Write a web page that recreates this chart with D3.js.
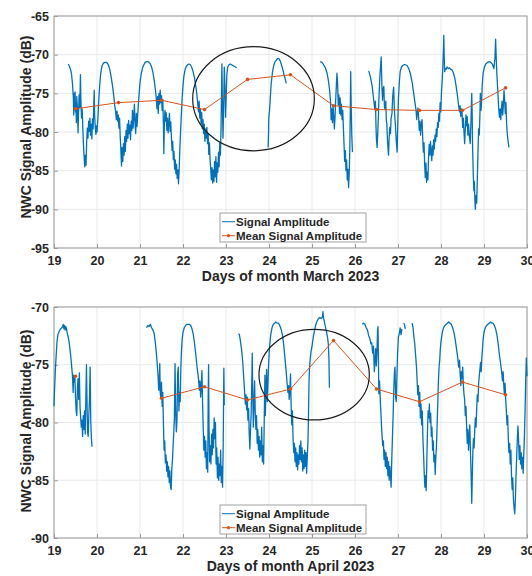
<!DOCTYPE html>
<html>
<head>
<meta charset="utf-8">
<script src="https://cdn.jsdelivr.net/npm/d3@7"></script>
<style>
  body { margin: 0; background: #fff; }
  svg text { font-family: "Liberation Sans", Arial, sans-serif; font-weight: bold; fill: #262626; }
</style>
</head>
<body>
<div id="vis"></div>
<script>
// ---- data ----
var xTicks = [19, 20, 21, 22, 23, 24, 25, 26, 27, 28, 29, 30];
var marchYTicks = [-95, -90, -85, -80, -75, -70, -65];
var aprilYTicks = [-90, -85, -80, -75, -70];

var meanDays = [19.5, 20.5, 21.5, 22.5, 23.5, 24.5, 25.5, 26.5, 27.5, 28.5, 29.5];
var marchMean = [-77.0, -76.2, -75.9, -77.1, -73.2, -72.6, -76.6, -77.1, -77.2, -77.2, -74.3];
var aprilMean = [-76.0, null, -77.9, -76.9, -78.05, -77.1, -72.9, -77.1, -78.2, -76.5, -77.6];

var legendNames = ["Signal Amplitude", "Mean Signal Amplitude"];
var xLabels = ["Days of month March 2023", "Days of month April 2023"];
var yLabel = "NWC Signal Amplitude (dB)";

// circled regions [centre day, centre dB, half width in days, half height in dB]
var marchCircle = [23.64, -75.7, 1.415, 6.73];
var aprilCircle = [25.05, -75.86, 1.283, 3.92];

// signal amplitude, one array per continuous piece of recording: [day, dB]
var marchSignal = [
  [[19.33,-71.2],[19.36,-71.5],[19.39,-72.0],[19.41,-72.6],[19.43,-73.8],[19.45,-75.6],[19.46,-77.8],[19.47,-75.0],[19.48,-76.9],[19.49,-74.8],[19.50,-77.4],[19.51,-76.2],[19.52,-78.8],[19.53,-75.4],[19.545,-77.0],[19.56,-80.1],[19.57,-77.6],[19.585,-75.2],[19.60,-76.8],[19.615,-72.6],[19.625,-75.8],[19.64,-78.2],[19.655,-77.0],[19.67,-79.4],[19.685,-81.6],[19.70,-83.2],[19.715,-84.5],[19.73,-83.0],[19.745,-84.3],[19.76,-81.2],[19.775,-79.5],[19.79,-80.8],[19.805,-78.6],[19.82,-79.9],[19.835,-78.2],[19.85,-80.4],[19.865,-79.0],[19.88,-80.9],[19.895,-78.3],[19.91,-79.6],[19.925,-76.5],[19.935,-74.6],[19.945,-77.8],[19.96,-79.4],[19.975,-80.3],[19.99,-79.2],[20.00,-80.0],[20.02,-78.3],[20.04,-76.0],[20.06,-74.2],[20.08,-72.8],[20.10,-71.9],[20.12,-71.4],[20.15,-71.1],[20.18,-71.0],[20.21,-71.0],[20.24,-71.1],[20.27,-71.4],[20.30,-72.0],[20.33,-72.9],[20.36,-74.0],[20.39,-75.3],[20.41,-76.5],[20.43,-77.2],[20.45,-78.4],[20.465,-77.3],[20.48,-78.6],[20.495,-77.8],[20.51,-79.5],[20.525,-78.2],[20.54,-80.6],[20.555,-82.4],[20.57,-84.4],[20.585,-82.0],[20.60,-83.8],[20.615,-81.5],[20.63,-83.0],[20.645,-80.6],[20.66,-82.5],[20.675,-79.8],[20.69,-81.2],[20.705,-79.0],[20.72,-80.8],[20.735,-78.5],[20.75,-80.2],[20.765,-79.1],[20.78,-81.0],[20.795,-78.6],[20.81,-79.8],[20.825,-77.2],[20.84,-79.5],[20.855,-78.0],[20.87,-76.4],[20.885,-79.0],[20.90,-80.2],[20.915,-77.6],[20.93,-79.3],[20.945,-78.0],[20.96,-76.5],[20.98,-75.0],[21.00,-73.6],[21.03,-72.4],[21.06,-71.7],[21.09,-71.3],[21.12,-71.0],[21.15,-70.9],[21.18,-70.9],[21.21,-71.0],[21.24,-71.2],[21.27,-71.6],[21.30,-72.3],[21.33,-73.3],[21.36,-74.6],[21.38,-75.8],[21.395,-77.0],[21.41,-75.4],[21.425,-77.6],[21.44,-75.0],[21.455,-76.4],[21.47,-74.6],[21.485,-76.2],[21.50,-75.3],[21.515,-77.2],[21.53,-75.8],[21.545,-79.0],[21.555,-82.8],[21.565,-79.4],[21.58,-77.2],[21.595,-78.6],[21.61,-77.5],[21.625,-79.8],[21.64,-78.2],[21.655,-80.1],[21.67,-78.8],[21.685,-77.6],[21.70,-79.9],[21.715,-78.7],[21.73,-80.6],[21.745,-82.4],[21.76,-81.2],[21.775,-83.6],[21.79,-82.5],[21.805,-84.8],[21.82,-83.6],[21.835,-85.4],[21.85,-84.2],[21.865,-86.0],[21.88,-84.9],[21.895,-86.7],[21.91,-85.0],[21.92,-83.3],[21.935,-81.0],[21.95,-79.2],[21.965,-77.4],[21.98,-75.6],[22.00,-74.0],[22.02,-72.8],[22.05,-71.9],[22.08,-71.5],[22.11,-71.3],[22.14,-71.2],[22.17,-71.3],[22.20,-71.6],[22.23,-72.1],[22.26,-72.8],[22.29,-73.8],[22.32,-75.0],[22.34,-76.2],[22.36,-77.4],[22.375,-76.0],[22.39,-78.2],[22.405,-77.0],[22.42,-78.9],[22.435,-77.5],[22.45,-79.6],[22.465,-78.4],[22.48,-80.2],[22.495,-79.0],[22.51,-81.2],[22.525,-79.6],[22.54,-80.8],[22.555,-79.4],[22.57,-81.5],[22.585,-80.2],[22.60,-82.9],[22.615,-81.4],[22.63,-83.6],[22.645,-84.8],[22.66,-86.2],[22.675,-84.6],[22.69,-86.6],[22.705,-84.9],[22.72,-86.4],[22.735,-83.8],[22.75,-85.8],[22.765,-83.2],[22.78,-86.5],[22.795,-84.0],[22.81,-85.2],[22.825,-82.6],[22.84,-84.5],[22.855,-81.4],[22.87,-83.0],[22.885,-79.5],[22.895,-75.0],[22.905,-71.2],[22.915,-75.6],[22.93,-80.8],[22.945,-77.0],[22.96,-71.6],[22.975,-74.0],[22.99,-78.1],[23.005,-75.3],[23.02,-72.6],[23.04,-71.6],[23.07,-71.3],[23.10,-71.2],[23.13,-71.3],[23.16,-71.4],[23.19,-71.5],[23.22,-71.6],[23.25,-71.7]],
  [[23.98,-82.0],[23.99,-79.8],[23.995,-78.2],[24.01,-77.4],[24.03,-75.6],[24.05,-73.8],[24.08,-72.3],[24.11,-71.4],[24.14,-70.9],[24.17,-70.7],[24.20,-70.5],[24.23,-70.5],[24.26,-70.8],[24.29,-71.3],[24.32,-71.9],[24.35,-72.6],[24.38,-73.2],[24.40,-73.7]],
  [[25.19,-70.9],[25.23,-71.0],[25.27,-71.3],[25.31,-71.7],[25.35,-72.4],[25.38,-73.3],[25.41,-74.6],[25.43,-76.0],[25.445,-78.4],[25.46,-77.0],[25.475,-78.8],[25.49,-76.6],[25.505,-77.9],[25.52,-79.6],[25.535,-78.2],[25.55,-76.0],[25.565,-74.2],[25.58,-72.4],[25.595,-73.6],[25.61,-76.5],[25.625,-75.2],[25.64,-77.6],[25.655,-75.6],[25.67,-77.8],[25.685,-76.4],[25.70,-78.4],[25.715,-77.2],[25.73,-79.5],[25.745,-81.6],[25.76,-83.8],[25.775,-82.4],[25.79,-85.0],[25.805,-83.6],[25.82,-86.2],[25.835,-84.8],[25.85,-87.2],[25.865,-85.4],[25.88,-82.0],[25.89,-77.5],[25.90,-72.2],[25.91,-76.0],[25.925,-80.4],[25.94,-82.6]],
  [[26.32,-72.1],[26.36,-72.9],[26.40,-74.1],[26.43,-75.6],[26.46,-77.1],[26.475,-76.0],[26.49,-79.6],[26.50,-81.1],[26.515,-82.0],[26.53,-80.0],[26.545,-77.8],[26.56,-75.2],[26.58,-72.6],[26.61,-70.3],[26.625,-74.0],[26.64,-75.9],[26.655,-74.4],[26.67,-74.1],[26.685,-76.8],[26.70,-77.1],[26.715,-76.0],[26.73,-78.6],[26.74,-78.9],[26.755,-81.0],[26.77,-82.4],[26.78,-83.0],[26.795,-80.6],[26.81,-79.4],[26.825,-80.2],[26.84,-78.2],[26.86,-77.6],[26.875,-75.6],[26.89,-74.6],[26.90,-74.2],[26.915,-77.0],[26.93,-78.4],[26.94,-79.1],[26.96,-81.2],[26.98,-82.6],[26.995,-79.0],[27.01,-75.8],[27.03,-73.6],[27.05,-72.2],[27.08,-71.6],[27.11,-71.4],[27.14,-71.3],[27.17,-71.3],[27.21,-71.4],[27.25,-71.8],[27.29,-72.5],[27.33,-73.6],[27.36,-74.8],[27.39,-76.0],[27.42,-77.2],[27.435,-78.4],[27.45,-77.4],[27.465,-76.9],[27.48,-78.2],[27.495,-79.8],[27.51,-78.6],[27.525,-80.4],[27.54,-79.0],[27.56,-78.4],[27.575,-80.8],[27.59,-82.6],[27.605,-81.4],[27.62,-84.2],[27.635,-85.9],[27.65,-84.0],[27.665,-86.5],[27.68,-85.2],[27.695,-86.2],[27.71,-83.4],[27.725,-81.6],[27.74,-83.0],[27.755,-81.2],[27.77,-82.6],[27.785,-83.7],[27.80,-81.8],[27.815,-83.0],[27.83,-81.0],[27.845,-82.2],[27.86,-80.4],[27.875,-81.2],[27.89,-79.6],[27.905,-80.6],[27.92,-78.8],[27.935,-79.4],[27.95,-77.6],[27.965,-78.6],[27.98,-76.2],[27.995,-77.4],[28.01,-75.0],[28.025,-73.6],[28.04,-72.0],[28.055,-69.6],[28.065,-67.5],[28.075,-70.4],[28.085,-72.2],[28.10,-71.8],[28.12,-71.9],[28.14,-71.6],[28.17,-71.8],[28.20,-71.7],[28.23,-71.9],[28.26,-72.0],[28.29,-72.4],[28.32,-73.0],[28.35,-74.0],[28.38,-75.2],[28.41,-76.6],[28.43,-77.4],[28.445,-76.6],[28.46,-78.0],[28.475,-77.0],[28.49,-77.6],[28.505,-79.4],[28.52,-78.2],[28.535,-80.0],[28.55,-81.5],[28.565,-79.6],[28.58,-77.8],[28.595,-79.2],[28.61,-78.0],[28.625,-80.4],[28.64,-79.0],[28.66,-80.6],[28.68,-81.5],[28.70,-78.0],[28.715,-75.0],[28.725,-77.6],[28.735,-82.0],[28.75,-85.4],[28.765,-87.6],[28.775,-86.4],[28.79,-89.0],[28.80,-90.0],[28.815,-88.2],[28.83,-89.2],[28.845,-86.0],[28.86,-82.6],[28.875,-79.6],[28.89,-80.4],[28.905,-77.8],[28.915,-75.0],[28.93,-77.2],[28.945,-76.0],[28.96,-73.8],[28.98,-72.4],[29.01,-71.6],[29.04,-71.2],[29.08,-71.0],[29.12,-70.9],[29.16,-71.0],[29.20,-71.3],[29.23,-71.8],[29.255,-70.4],[29.27,-68.0],[29.285,-70.6],[29.30,-72.6],[29.32,-74.6],[29.34,-76.8],[29.36,-78.1],[29.375,-77.0],[29.39,-78.4],[29.405,-77.2],[29.42,-76.0],[29.435,-77.8],[29.45,-76.6],[29.465,-74.6],[29.48,-75.8],[29.495,-77.6],[29.51,-76.2],[29.525,-78.8],[29.54,-80.2],[29.56,-81.2],[29.58,-82.0]]
];

var aprilSignal = [
  [[19.00,-78.6],[19.01,-77.4],[19.03,-75.6],[19.05,-74.2],[19.07,-73.0],[19.09,-72.4],[19.12,-72.1],[19.15,-71.9],[19.18,-71.8],[19.20,-71.7],[19.215,-71.5],[19.23,-71.9],[19.245,-71.6],[19.26,-72.0],[19.275,-71.7],[19.29,-71.9],[19.31,-72.3],[19.33,-72.6],[19.35,-73.0],[19.37,-73.6],[19.39,-74.3],[19.41,-75.1],[19.43,-76.0],[19.445,-77.4],[19.455,-75.9],[19.47,-76.5],[19.485,-76.0],[19.50,-77.8],[19.515,-79.0],[19.53,-79.4],[19.545,-77.0],[19.56,-76.2],[19.575,-78.0],[19.59,-75.7],[19.605,-78.6],[19.62,-79.6],[19.635,-80.4],[19.65,-79.8],[19.665,-81.2],[19.68,-79.4],[19.695,-80.6],[19.71,-79.0],[19.725,-81.0],[19.74,-78.2],[19.755,-75.0],[19.765,-77.6],[19.78,-80.8],[19.795,-81.2],[19.81,-79.4],[19.825,-78.0],[19.84,-75.2],[19.855,-79.8],[19.87,-81.4],[19.885,-82.1]],
  [[21.15,-71.8],[21.18,-71.6],[21.21,-71.7],[21.24,-71.5],[21.27,-71.8],[21.30,-72.0],[21.33,-72.3],[21.36,-73.2],[21.38,-74.0],[21.40,-74.9],[21.42,-76.0],[21.435,-77.2],[21.45,-76.2],[21.46,-74.9],[21.47,-77.4],[21.485,-77.9],[21.50,-76.5],[21.515,-78.6],[21.53,-77.4],[21.545,-80.1],[21.56,-82.4],[21.575,-81.6],[21.59,-83.5],[21.605,-82.8],[21.62,-84.2],[21.635,-83.4],[21.65,-84.7],[21.665,-83.8],[21.68,-85.2],[21.695,-84.2],[21.71,-85.6],[21.725,-85.8],[21.74,-84.0],[21.755,-83.2],[21.77,-82.0],[21.785,-80.9],[21.80,-79.6],[21.815,-74.9],[21.83,-79.2],[21.845,-80.8],[21.86,-79.8],[21.875,-75.8],[21.89,-75.2],[21.905,-79.0],[21.92,-77.4],[21.935,-78.2],[21.95,-75.2],[21.965,-73.8],[21.98,-72.8],[22.00,-72.2],[22.03,-71.8],[22.06,-71.6],[22.09,-71.5],[22.12,-71.5],[22.15,-71.5],[22.18,-71.6],[22.21,-71.9],[22.24,-72.4],[22.27,-73.2],[22.30,-74.2],[22.33,-75.3],[22.36,-76.2],[22.38,-77.2],[22.395,-76.4],[22.41,-77.8],[22.425,-77.0],[22.44,-75.5],[22.455,-78.2],[22.47,-80.4],[22.485,-82.4],[22.50,-81.2],[22.515,-83.0],[22.53,-81.6],[22.545,-84.0],[22.56,-82.6],[22.575,-84.3],[22.585,-78.0],[22.595,-75.0],[22.605,-80.4],[22.62,-83.4],[22.635,-82.0],[22.65,-83.6],[22.665,-81.0],[22.68,-82.8],[22.695,-80.6],[22.71,-82.2],[22.725,-79.6],[22.74,-81.4],[22.755,-80.0],[22.77,-83.6],[22.785,-82.2],[22.80,-84.8],[22.815,-83.0],[22.83,-85.0],[22.845,-83.6],[22.86,-84.6],[22.875,-82.4],[22.89,-85.2],[22.905,-83.8],[22.92,-85.6],[22.935,-82.0],[22.95,-75.3],[22.96,-78.5]],
  [[23.29,-72.3],[23.31,-72.4],[23.33,-72.8],[23.36,-73.6],[23.39,-74.8],[23.41,-76.0],[23.43,-77.2],[23.45,-78.4],[23.465,-77.6],[23.48,-78.9],[23.495,-77.8],[23.51,-79.8],[23.525,-78.8],[23.54,-81.0],[23.555,-82.3],[23.57,-80.6],[23.585,-79.2],[23.60,-76.4],[23.61,-74.0],[23.62,-76.8],[23.635,-80.4],[23.65,-78.6],[23.665,-76.4],[23.68,-79.2],[23.695,-80.6],[23.71,-79.4],[23.725,-81.8],[23.74,-80.6],[23.755,-82.4],[23.77,-81.2],[23.785,-83.0],[23.80,-81.6],[23.815,-82.8],[23.83,-80.4],[23.845,-83.4],[23.86,-82.0],[23.875,-83.6],[23.89,-79.6],[23.905,-75.9],[23.915,-79.4],[23.93,-77.2],[23.945,-75.4],[23.96,-78.2],[23.975,-76.8],[23.99,-75.0],[24.01,-73.6],[24.04,-72.4],[24.07,-71.8],[24.10,-71.5],[24.13,-71.4],[24.16,-71.3],[24.19,-71.4],[24.22,-71.4],[24.25,-71.6],[24.28,-71.9],[24.31,-72.4],[24.34,-73.2],[24.37,-74.4],[24.40,-75.6],[24.42,-76.6],[24.44,-77.4],[24.455,-76.8],[24.47,-78.0],[24.485,-77.2],[24.50,-75.8],[24.515,-78.6],[24.53,-80.2],[24.545,-79.0],[24.56,-81.4],[24.575,-82.6],[24.59,-81.8],[24.605,-83.4],[24.62,-82.2],[24.635,-83.8],[24.65,-82.6],[24.665,-84.1],[24.68,-82.8],[24.695,-83.6],[24.71,-82.0],[24.725,-83.2],[24.74,-81.6],[24.755,-83.4],[24.77,-82.2],[24.785,-84.2],[24.80,-82.8],[24.815,-84.0],[24.83,-82.4],[24.845,-83.8],[24.86,-82.6],[24.875,-84.4],[24.89,-83.0],[24.905,-81.8],[24.92,-79.0],[24.93,-76.6],[24.94,-75.4],[24.96,-74.4],[24.98,-73.8],[25.00,-73.4],[25.03,-72.6],[25.06,-72.0],[25.09,-71.5],[25.12,-71.2],[25.15,-71.0],[25.18,-70.9],[25.21,-71.0],[25.24,-70.9],[25.255,-70.4],[25.265,-70.9],[25.28,-71.1],[25.30,-71.5],[25.33,-72.0],[25.36,-72.6],[25.38,-73.2],[25.395,-74.6],[25.405,-77.0]],
  [[26.17,-71.5],[26.20,-71.4],[26.23,-71.5],[26.26,-71.8],[26.29,-72.0],[26.32,-72.5],[26.35,-72.8],[26.37,-73.2],[26.39,-73.1],[26.41,-74.0],[26.43,-73.4],[26.45,-75.6],[26.465,-74.6],[26.48,-73.6],[26.495,-75.1],[26.51,-74.0],[26.525,-72.0],[26.535,-71.7],[26.545,-74.6],[26.555,-77.5],[26.57,-76.4],[26.585,-77.8],[26.60,-79.0],[26.615,-80.2],[26.63,-81.2],[26.645,-82.0],[26.66,-81.6],[26.675,-83.2],[26.69,-82.4],[26.705,-83.8],[26.72,-82.6],[26.735,-84.0],[26.75,-83.0],[26.765,-84.6],[26.78,-83.4],[26.795,-85.0],[26.81,-83.8],[26.825,-84.6],[26.84,-85.6],[26.855,-83.2],[26.87,-81.4],[26.885,-79.6],[26.90,-77.4],[26.915,-75.8],[26.93,-75.2],[26.945,-77.8],[26.96,-78.2],[26.975,-76.0],[26.99,-74.0],[27.01,-72.6],[27.03,-72.3],[27.05,-71.8],[27.07,-72.4],[27.09,-71.9]],
  [[27.13,-71.4],[27.15,-71.5],[27.17,-71.9]],
  [[27.33,-71.4],[27.35,-71.8],[27.37,-72.6],[27.39,-73.2],[27.41,-74.2],[27.43,-75.2],[27.445,-76.4],[27.46,-77.6],[27.475,-76.8],[27.49,-78.6],[27.505,-77.4],[27.52,-79.6],[27.535,-78.4],[27.55,-80.2],[27.565,-79.0],[27.58,-81.4],[27.595,-82.8],[27.61,-84.4],[27.625,-85.6],[27.64,-84.6],[27.655,-85.9],[27.67,-83.4],[27.685,-80.8],[27.70,-79.0],[27.715,-79.6],[27.73,-78.4],[27.745,-80.0],[27.76,-79.2],[27.775,-81.2],[27.79,-80.4],[27.805,-82.4],[27.82,-81.6],[27.835,-83.4],[27.85,-82.8],[27.865,-84.5],[27.88,-83.0],[27.895,-82.0],[27.91,-80.2],[27.925,-78.4],[27.94,-76.4],[27.955,-75.2],[27.97,-74.6],[27.985,-73.6],[28.00,-73.0],[28.03,-72.2],[28.06,-71.8],[28.09,-71.6],[28.12,-71.5],[28.15,-71.4],[28.18,-71.3],[28.21,-71.4],[28.24,-71.5],[28.27,-71.8],[28.30,-72.2],[28.33,-72.8],[28.36,-73.6],[28.39,-74.4],[28.41,-75.2],[28.43,-74.6],[28.445,-75.8],[28.46,-76.8],[28.475,-75.6],[28.49,-76.2],[28.505,-75.2],[28.52,-76.8],[28.535,-77.6],[28.55,-78.0],[28.565,-79.4],[28.58,-78.6],[28.595,-80.2],[28.61,-81.8],[28.625,-80.6],[28.64,-82.4],[28.655,-81.2],[28.67,-80.2],[28.685,-82.6],[28.70,-84.4],[28.715,-87.0],[28.725,-85.2],[28.74,-82.6],[28.755,-81.4],[28.77,-82.2],[28.785,-80.6],[28.80,-79.6],[28.815,-80.4],[28.83,-78.8],[28.845,-77.6],[28.86,-78.2],[28.875,-76.6],[28.89,-76.0],[28.905,-75.4],[28.92,-74.8],[28.935,-75.6],[28.95,-74.4],[28.965,-73.6],[28.98,-72.8],[29.00,-72.2],[29.03,-71.8],[29.06,-71.6],[29.09,-71.5],[29.12,-71.4],[29.15,-71.3],[29.18,-71.4],[29.21,-71.4],[29.24,-71.6],[29.27,-71.9],[29.30,-72.4],[29.33,-73.2],[29.36,-74.2],[29.39,-75.0],[29.41,-75.6],[29.43,-76.4],[29.445,-75.6],[29.46,-76.8],[29.475,-77.6],[29.49,-76.6],[29.505,-78.0],[29.52,-79.0],[29.535,-80.2],[29.55,-79.4],[29.565,-81.4],[29.58,-82.6],[29.595,-81.8],[29.61,-83.6],[29.625,-82.4],[29.64,-84.6],[29.655,-85.8],[29.67,-84.8],[29.685,-86.7],[29.70,-87.4],[29.715,-87.9],[29.73,-86.6],[29.745,-84.6],[29.76,-83.0],[29.775,-81.4],[29.79,-80.3],[29.805,-81.6],[29.82,-83.2],[29.835,-82.0],[29.85,-83.6],[29.865,-82.6],[29.88,-84.0],[29.895,-83.0],[29.91,-84.4],[29.925,-82.8],[29.94,-81.2],[29.955,-79.0],[29.97,-76.4],[29.985,-74.4],[30.0,-76.0]]
];

// ---- chart ----
var width = 532;
var height = 576;
var blue = "#0072BD";
var red = "#D95319";

var svg = d3.select('#vis').append('svg')
  .attr('width', width)
  .attr('height', height);

var x = d3.scaleLinear().domain([19, 30]).range([54, 527]);

//draws one of the two panels
function drawPanel(p){
  var y = d3.scaleLinear().domain(p.yDomain).range([p.bottom, p.top]);
  var g = svg.append('g');

  // grid
  g.selectAll('line.vgrid').data(xTicks).enter().append('line')
    .attr('x1', d => x(d)).attr('x2', d => x(d))
    .attr('y1', p.top).attr('y2', p.bottom)
    .attr('stroke', '#e9e9e9');
  g.selectAll('line.hgrid').data(p.yTicks).enter().append('line')
    .attr('x1', x(19)).attr('x2', x(30))
    .attr('y1', d => y(d)).attr('y2', d => y(d))
    .attr('stroke', '#e9e9e9');

  // axes with inward ticks
  var xAxis = g.append('g').attr('transform', 'translate(0,' + p.bottom + ')')
    .call(d3.axisBottom(x).tickValues(xTicks).tickSize(-4).tickPadding(8).tickFormat(d => String(d)));
  var yAxis = g.append('g').attr('transform', 'translate(' + x(19) + ',0)')
    .call(d3.axisLeft(y).tickValues(p.yTicks).tickSize(-4).tickPadding(5).tickFormat(d => String(d)));
  [xAxis, yAxis].forEach(a => {
    a.select('.domain').remove();
    a.attr('font-family', null).attr('font-size', null);
    a.selectAll('line').attr('stroke', '#9a9a9a');
    a.selectAll('text').style('font-size', '12.5px');
  });

  // box
  g.append('rect')
    .attr('x', x(19)).attr('y', p.top)
    .attr('width', x(30) - x(19)).attr('height', p.bottom - p.top)
    .attr('fill', 'none').attr('stroke', '#9a9a9a').attr('stroke-width', 1);

  // signal
  var line = d3.line().x(d => x(d[0])).y(d => y(d[1]));
  g.selectAll('path.sig').data(p.signal).enter().append('path')
    .attr('d', line)
    .attr('fill', 'none')
    .attr('stroke', blue)
    .attr('stroke-width', 1.3)
    .attr('stroke-linejoin', 'round');

  // mean
  var meanPts = meanDays.map((d, i) => [d, p.mean[i]]);
  var meanLine = d3.line().defined(d => d[1] != null).x(d => x(d[0])).y(d => y(d[1]));
  g.append('path')
    .attr('d', meanLine(meanPts))
    .attr('fill', 'none')
    .attr('stroke', red)
    .attr('stroke-width', 1);
  g.selectAll('circle.m').data(meanPts.filter(d => d[1] != null)).enter().append('circle')
    .attr('cx', d => x(d[0])).attr('cy', d => y(d[1]))
    .attr('r', 1.8).attr('fill', red);

  // circled region
  var c = p.circle;
  g.append('ellipse')
    .attr('cx', x(c[0])).attr('cy', y(c[1]))
    .attr('rx', x(c[0] + c[2]) - x(c[0]))
    .attr('ry', y(c[1] - c[3]) - y(c[1]))
    .attr('fill', 'none').attr('stroke', '#1a1a1a').attr('stroke-width', 1.2);

  // legend
  var lg = g.append('g').attr('transform', 'translate(220,' + p.legendTop + ')');
  lg.append('rect').attr('width', 146).attr('height', 29)
    .attr('fill', '#fff').attr('stroke', '#8a8a8a').attr('stroke-width', 0.8);
  legendNames.forEach((name, i) => {
    var ly = 8.7 + i * 14;
    var col = i == 0 ? blue : red;
    lg.append('line').attr('x1', 2).attr('x2', 15).attr('y1', ly).attr('y2', ly)
      .attr('stroke', col).attr('stroke-width', 1);
    if (i == 1) lg.append('circle').attr('cx', 8.5).attr('cy', ly).attr('r', 1.6).attr('fill', red);
    lg.append('text').attr('x', 16).attr('y', ly).attr('dy', '0.35em')
      .style('font-size', '11.5px').text(name);
  });

  // labels
  g.append('text')
    .attr('x', (x(19) + x(30)) / 2).attr('y', p.bottom + 33)
    .attr('text-anchor', 'middle')
    .style('font-size', '14px')
    .text(p.xLabel);
  g.append('text')
    .attr('transform', 'translate(31,' + p.yLabelY + ') rotate(-90)')
    .attr('text-anchor', 'middle')
    .style('font-size', '14px')
    .text(yLabel);
}

drawPanel({top: 16, bottom: 248, yDomain: [-95, -65], yTicks: marchYTicks,
  signal: marchSignal, mean: marchMean, circle: marchCircle,
  legendTop: 213, xLabel: xLabels[0], yLabelY: 127});
drawPanel({top: 307, bottom: 538, yDomain: [-90, -70], yTicks: aprilYTicks,
  signal: aprilSignal, mean: aprilMean, circle: aprilCircle,
  legendTop: 505, xLabel: xLabels[1], yLabelY: 421});
</script>
</body>
</html>
